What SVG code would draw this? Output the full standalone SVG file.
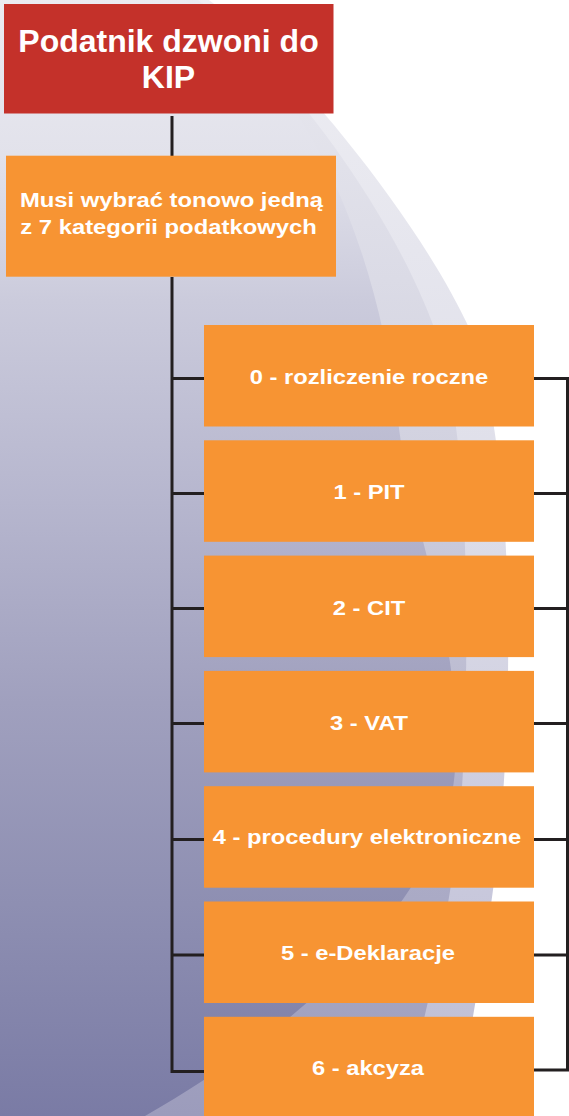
<svg xmlns="http://www.w3.org/2000/svg" width="569" height="1116" viewBox="0 0 569 1116">
  <defs>
    <linearGradient id="gOuter" x1="0" y1="0" x2="0" y2="1116" gradientUnits="userSpaceOnUse">
      <stop offset="0" stop-color="#EEEEF3"/>
      <stop offset="0.45" stop-color="#DEDEE9"/>
      <stop offset="0.8" stop-color="#C8C8DC"/>
      <stop offset="1" stop-color="#BCBCD3"/>
    </linearGradient>
    <linearGradient id="gMid" x1="0" y1="0" x2="0" y2="1116" gradientUnits="userSpaceOnUse">
      <stop offset="0" stop-color="#EAEAF0"/>
      <stop offset="0.4" stop-color="#D2D2E0"/>
      <stop offset="0.75" stop-color="#AEAEC8"/>
      <stop offset="1" stop-color="#9C9CBC"/>
    </linearGradient>
    <linearGradient id="gCore" x1="0" y1="0" x2="0" y2="1116" gradientUnits="userSpaceOnUse">
      <stop offset="0" stop-color="#EBEBF1"/>
      <stop offset="0.14" stop-color="#E2E2EB"/>
      <stop offset="0.27" stop-color="#CBCBDC"/>
      <stop offset="0.45" stop-color="#B6B6CE"/>
      <stop offset="0.63" stop-color="#A0A0BE"/>
      <stop offset="0.81" stop-color="#8E8FB2"/>
      <stop offset="1" stop-color="#7A7BA5"/>
    </linearGradient>
    <style>
      .conn { fill: none; stroke: #231F20; stroke-width: 3; stroke-linecap: butt; stroke-linejoin: miter; }
      .red { fill: #C4312A; }
      .org { fill: #F79433; }
      .t { font-family: "Liberation Sans", Arial, sans-serif; font-weight: bold; fill: #FFFFFF; text-anchor: middle; }
      .t32 { font-size: 32px; }
      .t21 { font-size: 21px; }
    </style>
  </defs>

  <g id="background">
    <rect x="0" y="0" width="569" height="1116" fill="#FFFFFF"/>
    <path d="M0,0 L209,0 C290,60 420,220 470,330 C505,420 515,600 504,780 C498,880 480,980 455,1116 L0,1116 Z" fill="url(#gOuter)"/>
    <path d="M0,0 L198,0 C285,65 400,220 440,345 C468,440 470,620 463,770 C458,870 440,960 400,1116 L0,1116 Z" fill="url(#gMid)"/>
    <path d="M0,0 L185,0 C300,70 375,230 398,420 C410,530 465,640 455,770 C448,880 330,1010 145,1116 L0,1116 Z" fill="url(#gCore)"/>
  </g>

  <g id="connectors">
    <path class="conn" d="M172,116 V156"/>
    <path class="conn" d="M172,277 V1071.5 H204"/>
    <path class="conn" d="M172,378.5 H204 M172,493.5 H204 M172,608.5 H204 M172,723.5 H204 M172,839.5 H204 M172,955 H204"/>
    <path class="conn" d="M534,378.5 H567.5 V1070 H534"/>
    <path class="conn" d="M534,493.5 H567.5 M534,608.5 H567.5 M534,723.5 H567.5 M534,839.5 H567.5 M534,955 H567.5"/>
  </g>

  <g id="node-start">
    <rect class="red" x="4" y="4" width="329.5" height="109.5"/>
    <text class="t t32" x="168.5" y="51.5">Podatnik dzwoni do</text>
    <text class="t t32" x="168.5" y="87.5">KIP</text>
  </g>

  <g id="node-choose">
    <rect class="org" x="6" y="155.7" width="330" height="121"/>
    <text class="t t21" transform="translate(171.5 206.7) scale(1.135 1)">Musi wybrać tonowo jedną</text>
    <text class="t t21" transform="translate(168.5 234) scale(1.135 1)">z 7 kategorii podatkowych</text>
  </g>

  <g id="node-0">
    <rect class="org" x="204" y="325" width="330" height="101.5"/>
    <text class="t t21" transform="translate(369 384) scale(1.13 1)">0 - rozliczenie roczne</text>
  </g>
  <g id="node-1">
    <rect class="org" x="204" y="440.3" width="330" height="101.5"/>
    <text class="t t21" transform="translate(369 499.2) scale(1.13 1)">1 - PIT</text>
  </g>
  <g id="node-2">
    <rect class="org" x="204" y="555.6" width="330" height="101.5"/>
    <text class="t t21" transform="translate(369 614.5) scale(1.13 1)">2 - CIT</text>
  </g>
  <g id="node-3">
    <rect class="org" x="204" y="670.9" width="330" height="101.5"/>
    <text class="t t21" transform="translate(369 729.8) scale(1.13 1)">3 - VAT</text>
  </g>
  <g id="node-4">
    <rect class="org" x="204" y="786.2" width="330" height="101.5"/>
    <text class="t t21" transform="translate(367 844) scale(1.13 1)">4 - procedury elektroniczne</text>
  </g>
  <g id="node-5">
    <rect class="org" x="204" y="901.5" width="330" height="101.5"/>
    <text class="t t21" transform="translate(368 959.5) scale(1.13 1)">5 - e-Deklaracje</text>
  </g>
  <g id="node-6">
    <rect class="org" x="204" y="1016.8" width="330" height="101.5"/>
    <text class="t t21" transform="translate(368 1074.5) scale(1.13 1)">6 - akcyza</text>
  </g>
</svg>
